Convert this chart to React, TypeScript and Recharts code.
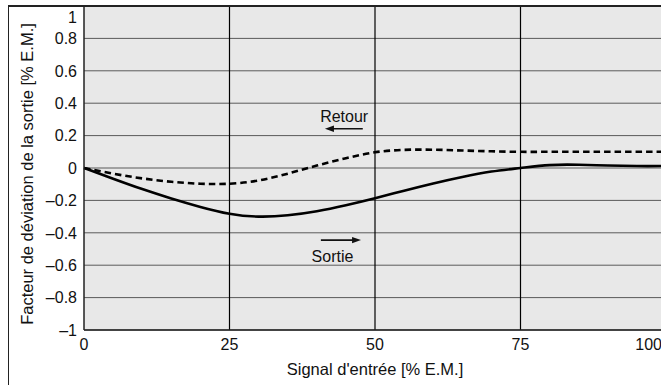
import React from "react";
import {
  LineChart,
  Line,
  XAxis,
  YAxis,
  CartesianGrid,
  ReferenceLine,
  ReferenceDot,
  Label,
} from "recharts";

// Input signal in % of full scale
const inputSignal = [0, 5, 10, 15, 20, 25, 30, 35, 40, 45, 50, 55, 60, 65, 70, 75, 80, 85, 90, 95, 100];
// Output deviation on the rising branch ("Sortie")
const sortieDeviation = [0, -0.066, -0.13, -0.188, -0.24, -0.282, -0.3, -0.292, -0.267, -0.23, -0.187, -0.14, -0.095, -0.055, -0.022, 0, 0.018, 0.02, 0.015, 0.012, 0.012];
// Output deviation on the return branch ("Retour")
const retourDeviation = [0, -0.035, -0.064, -0.085, -0.097, -0.097, -0.077, -0.035, 0.015, 0.06, 0.097, 0.112, 0.113, 0.108, 0.103, 0.1, 0.1, 0.1, 0.1, 0.1, 0.1];

const xTicks = [0, 25, 50, 75, 100];
const yTicks = [-1, -0.8, -0.6, -0.4, -0.2, 0, 0.2, 0.4, 0.6, 0.8, 1];

// Direction annotations: caption position and arrow (from -> to) in data units
const retourNote = { text: "Retour", x: 44.7, y: 0.32, arrowFrom: 47.9, arrowTo: 41.4, arrowY: 0.242 };
const sortieNote = { text: "Sortie", x: 42.7, y: -0.545, arrowFrom: 40.7, arrowTo: 47.6, arrowY: -0.445 };

const data = inputSignal.map((x, i) => ({
  x,
  sortie: sortieDeviation[i],
  retour: retourDeviation[i],
}));

const FONT = "'Liberation Sans', Arial, Helvetica, sans-serif";
const FS = 16;

const formatValue = (v: number) => {
  if (v === 0) return "0";
  const s = String(Math.abs(v));
  return v < 0 ? "\u2013" + s : s;
};

const YTick = (props: any) => {
  const { x, y, payload } = props;
  const shift = payload.value === 1 ? 11 : 0;
  return (
    <text x={x + 1} y={y + shift} dy="0.36em" textAnchor="end" fontSize={FS} fontFamily={FONT} fill="#111">
      {formatValue(payload.value)}
    </text>
  );
};

const XTick = (props: any) => {
  const { x, y, payload } = props;
  const last = payload.value === 100;
  return (
    <text
      x={last ? x - 4 : x}
      y={y + 12}
      textAnchor={last ? "end" : "middle"}
      fontSize={FS}
      fontFamily={FONT}
      fill="#111"
    >
      {payload.value}
    </text>
  );
};

const Arrow = (props: any) => {
  const { x1, y1, x2, y2 } = props;
  const dir = x2 > x1 ? 1 : -1;
  const len = 9;
  const half = 3.2;
  return (
    <g>
      <line x1={x1} y1={y1} x2={x2 - dir * len * 0.6} y2={y2} stroke="#111" strokeWidth={1.6} />
      <polygon
        points={`${x2},${y2} ${x2 - dir * len},${y2 - half} ${x2 - dir * len},${y2 + half}`}
        fill="#111"
      />
    </g>
  );
};

const caption = (text: string) => (props: any) => (
  <text x={props.cx} y={props.cy} dy="0.36em" textAnchor="middle" fontSize={FS} fontFamily={FONT} fill="#111">
    {text}
  </text>
);

export default function App() {
  return (
    <div style={{ position: "absolute", left: 0, top: 0, width: 661, height: 385, overflow: "hidden", background: "#fff" }}>
      <div
        style={{
          position: "absolute",
          left: 8,
          top: 5,
          width: 700,
          height: 400,
          borderLeft: "1px solid #222",
          borderTop: "2px solid #222",
        }}
      />
      <div style={{ position: "absolute", left: 0, top: 0 }}>
        <LineChart width={680} height={385} data={data} margin={{ top: 6, right: 14, bottom: 0, left: 0 }}>
          <CartesianGrid
            vertical={false}
            stroke="#5a5a5a"
            strokeWidth={1}
            fill="#e8e8e8"
            fillOpacity={1}
          />
          <XAxis
            dataKey="x"
            type="number"
            domain={[0, 100]}
            ticks={xTicks}
            tickLine={false}
            axisLine={{ stroke: "#222", strokeWidth: 1.5 }}
            tick={<XTick />}
            height={55}
            interval={0}
          >
            <Label
              content={(p: any) => (
                <text
                  x={p.viewBox.x + p.viewBox.width / 2}
                  y={p.viewBox.y + 45}
                  textAnchor="middle"
                  fontSize={16.5}
                  fontFamily={FONT}
                  fill="#111"
                >
                  Signal d'entrée [% E.M.]
                </text>
              )}
            />
          </XAxis>
          <YAxis
            type="number"
            domain={[-1, 1]}
            ticks={yTicks}
            tickLine={false}
            axisLine={{ stroke: "#222", strokeWidth: 1.5 }}
            tick={<YTick />}
            width={84}
            interval={0}
          >
            <Label
              content={(p: any) => {
                const cx = p.viewBox.x + 27;
                const cy = p.viewBox.y + p.viewBox.height / 2 + 6;
                return (
                  <text
                    x={cx}
                    y={cy}
                    dy="0.36em"
                    transform={`rotate(-90 ${cx} ${cy})`}
                    textAnchor="middle"
                    fontSize={16.5}
                    fontFamily={FONT}
                    fill="#111"
                  >
                    Facteur de déviation de la sortie [% E.M.]
                  </text>
                );
              }}
            />
          </YAxis>
          {xTicks.slice(1, 4).map((v) => (
            <ReferenceLine key={v} x={v} stroke="#000" strokeWidth={1.2} />
          ))}
          <ReferenceLine y={1} stroke="#222" strokeWidth={2} />
          <Line
            type="natural"
            dataKey="retour"
            stroke="#000"
            strokeWidth={2.6}
            strokeDasharray="6.5 4"
            dot={false}
            isAnimationActive={false}
          />
          <Line
            type="natural"
            dataKey="sortie"
            stroke="#000"
            strokeWidth={2.6}
            dot={false}
            isAnimationActive={false}
          />
          <ReferenceLine
            segment={[
              { x: retourNote.arrowFrom, y: retourNote.arrowY },
              { x: retourNote.arrowTo, y: retourNote.arrowY },
            ]}
            shape={<Arrow />}
          />
          <ReferenceLine
            segment={[
              { x: sortieNote.arrowFrom, y: sortieNote.arrowY },
              { x: sortieNote.arrowTo, y: sortieNote.arrowY },
            ]}
            shape={<Arrow />}
          />
          <ReferenceDot x={retourNote.x} y={retourNote.y} r={0} shape={caption(retourNote.text)} />
          <ReferenceDot x={sortieNote.x} y={sortieNote.y} r={0} shape={caption(sortieNote.text)} />
        </LineChart>
      </div>
    </div>
  );
}
